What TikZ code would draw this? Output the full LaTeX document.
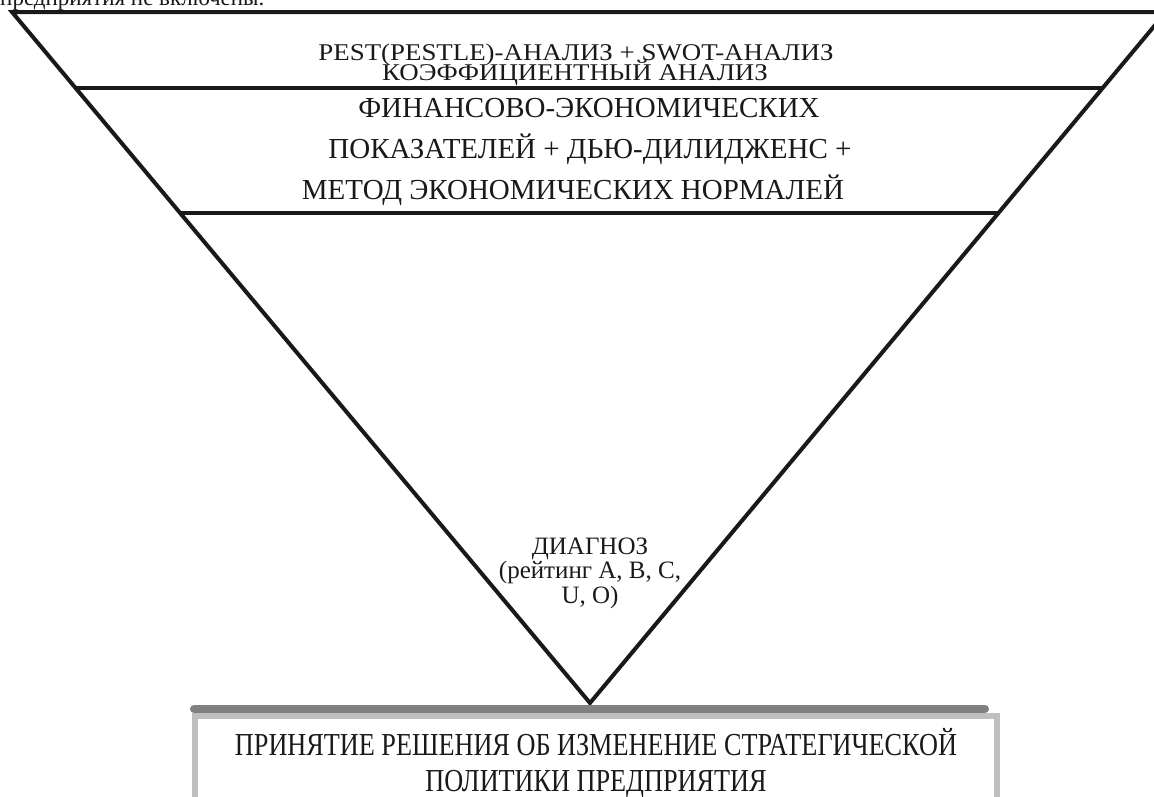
\documentclass[tikz,border=0pt]{standalone}
\usepackage{fontspec}
\setmainfont{Liberation Serif}
\newfontfamily\condfont[FakeStretch=0.82]{Liberation Serif}
\newfontfamily\widefont[FakeStretch=1.12]{Liberation Serif}
\usetikzlibrary{calc}
\tikzset{
  side/.style={line width=4pt, line join=miter, black!90},
  divider/.style={line width=4pt, black!90},
  lbl/.style={inner sep=0pt, align=center, text=black!90, anchor=base},
  topfont/.style={font=\widefont\fontsize{24}{24}\selectfont},
  midfont/.style={font=\fontsize{29}{29}\selectfont},
  diagfont/.style={font=\fontsize{25}{25}\selectfont},
  botfont/.style={font=\condfont\fontsize{32}{32}\selectfont},
}
\begin{document}
\begin{tikzpicture}[x=1pt,y=-1pt]
\useasboundingbox (0,0) rectangle (1154,796);
\clip (0,0) rectangle (1154,796);
\fill[white] (0,0) rectangle (1154,796);
% cut-off text at the top
\node[lbl, anchor=base west, font=\fontsize{23}{25}\selectfont] (cut) at (0,5) {предприятия не включены.};
% triangle
\coordinate (TL) at (12,12);
\coordinate (TR) at (1166,12);
\coordinate (AP) at (590,703);
\draw[side] (TL) -- (TR) -- (AP) -- cycle;
\coordinate (d1l) at ($(TL)!0.110!(AP)$);
\coordinate (d1r) at ($(TR)!0.110!(AP)$);
\coordinate (d2l) at ($(TL)!0.2909!(AP)$);
\coordinate (d2r) at ($(TR)!0.2909!(AP)$);
\draw[divider] (d1l) -- (d1r);
\draw[divider] (d2l) -- (d2r);
% texts
\node[lbl, topfont] (t1a) at (576,60) {PEST(PESTLE)-АНАЛИЗ + SWOT-АНАЛИЗ};
\node[lbl, topfont] (t1b) at (575,80) {КОЭФФИЦИЕНТНЫЙ АНАЛИЗ};
\node[lbl, midfont] (t2a) at (589,117) {ФИНАНСОВО-ЭКОНОМИЧЕСКИХ};
\node[lbl, midfont] (t2b) at (590,158) {ПОКАЗАТЕЛЕЙ + ДЬЮ-ДИЛИДЖЕНС +};
\node[lbl, midfont] (t2c) at (573,199) {МЕТОД ЭКОНОМИЧЕСКИХ НОРМАЛЕЙ};
\node[lbl, diagfont] (t3a) at (590,554) {ДИАГНОЗ};
\node[lbl, diagfont] (t3b) at (590,578) {(рейтинг A, B, C,};
\node[lbl, diagfont] (t3c) at (590,603) {U, O)};
% bottom box
\draw[line width=6pt, black!25] (195,716) rectangle (997,830);
\draw[line width=8pt, black!50, line cap=round] (194,709) -- (985,709);
\node[lbl, botfont] (t4a) at (596,755) {ПРИНЯТИЕ РЕШЕНИЯ ОБ ИЗМЕНЕНИЕ СТРАТЕГИЧЕСКОЙ};
\node[lbl, botfont] (t4b) at (596,791) {ПОЛИТИКИ ПРЕДПРИЯТИЯ};
\end{tikzpicture}
\end{document}
